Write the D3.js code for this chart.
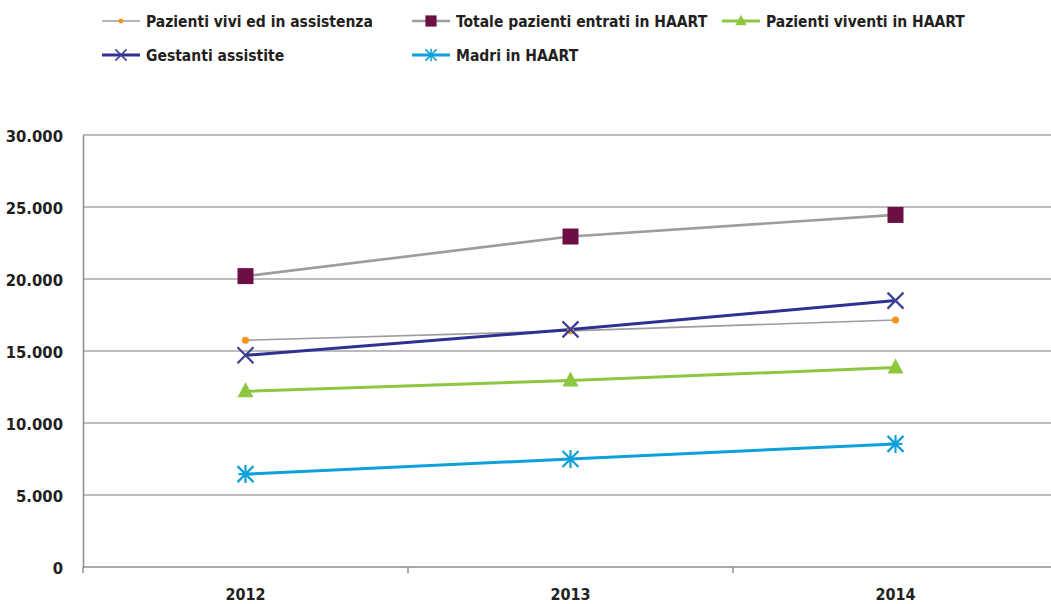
<!DOCTYPE html>
<meta charset="utf-8">
<script src="https://d3js.org/d3.v7.min.js"></script>
<style>
body { margin:0; background:#fff; }
text { font-family: "Liberation Sans Narrow", "DejaVu Sans Condensed", sans-serif; font-weight:bold; fill:#231f20; }
.grid line { stroke:#a6a6a6; stroke-width:1.5px; }
.axis path, .axis line { stroke:#8c8c8c; stroke-width:1.5px; }
</style>
<body>
<script>

var years = ['2012', '2013', '2014'];
var yTicks = [0, 5000, 10000, 15000, 20000, 25000, 30000];

var vivi = [15750, 16400, 17150];
var totale = [20200, 22950, 24450];
var viventi = [12200, 12950, 13850];
var gestanti = [14700, 16500, 18500];
var madri = [6450, 7500, 8550];

var series = [
  {name: 'Pazienti vivi ed in assistenza', values: vivi, color: '#9d9d9d', width: 1.6, marker: 'dot', mcolor: '#f7941d'},
  {name: 'Totale pazienti entrati in HAART', values: totale, color: '#9d9d9d', width: 2.6, marker: 'square', mcolor: '#6b0f44'},
  {name: 'Pazienti viventi in HAART', values: viventi, color: '#8dc63f', width: 3, marker: 'triangle', mcolor: '#8dc63f'},
  {name: 'Gestanti assistite', values: gestanti, color: '#2e3192', width: 3, marker: 'x', mcolor: '#3d3f95'},
  {name: 'Madri in HAART', values: madri, color: '#0ea0db', width: 3, marker: 'star', mcolor: '#0ea0db'}
];

var W = 1051, H = 604;
var margin = {top: 135, left: 83};
var plotW = 975, plotH = 432;

var svg = d3.select('body').append('svg').attr('width', W).attr('height', H);

var x = d3.scaleBand().domain(years).range([margin.left, margin.left + plotW]);
var y = d3.scaleLinear().domain([0, 30000]).range([margin.top + plotH, margin.top]);
var fmt = function(d) { return d3.format(',')(d).replace(/,/g, '.'); };

// gridlines
svg.append('g').attr('class', 'grid')
  .selectAll('line').data(yTicks.slice(1)).enter().append('line')
  .attr('x1', margin.left).attr('x2', margin.left + plotW)
  .attr('y1', function(d) { return y(d); }).attr('y2', function(d) { return y(d); });

// y axis
var yAxis = svg.append('g').attr('class', 'axis')
  .attr('transform', 'translate(' + margin.left + ',0)')
  .call(d3.axisLeft(y).tickValues(yTicks).tickSize(0).tickPadding(20).tickFormat(fmt));
yAxis.selectAll('text').style('font-size', '16.5px').attr('dy', '0.4em');

// x axis
var xAxis = svg.append('g').attr('class', 'axis')
  .attr('transform', 'translate(0,' + (margin.top + plotH) + ')')
  .call(d3.axisBottom(x).tickSize(0).tickPadding(22));
xAxis.select('.domain').remove();
xAxis.selectAll('text').style('font-size', '16px');
xAxis.append('line').attr('x1', margin.left).attr('x2', margin.left + plotW);
xAxis.selectAll('.sep').data(years.concat(['end'])).enter().append('line')
  .attr('class', 'sep')
  .attr('x1', function(d, i) { return margin.left + i * x.bandwidth(); })
  .attr('x2', function(d, i) { return margin.left + i * x.bandwidth(); })
  .attr('y1', 0).attr('y2', 6);

function drawMarker(g, type, color) {
  if (type === 'dot') {
    g.append('path').attr('d', d3.symbol(d3.symbolCircle, 40)()).attr('fill', color);
  } else if (type === 'square') {
    g.append('rect').attr('x', -8).attr('y', -8).attr('width', 16).attr('height', 16).attr('fill', color);
  } else if (type === 'triangle') {
    g.append('path').attr('d', 'M0,-9L8,6L-8,6Z').attr('fill', color);
  } else if (type === 'x') {
    g.append('path').attr('d', 'M-8,-8L8,8M-8,8L8,-8').attr('stroke', color).attr('stroke-width', 2.2).attr('fill', 'none');
  } else if (type === 'star') {
    g.append('path').attr('d', 'M-8,-8L8,8M-8,8L8,-8M0,-9V9M-7,0H7').attr('stroke', color).attr('stroke-width', 2.2).attr('fill', 'none');
  }
}

var line = d3.line()
  .x(function(d, i) { return x(years[i]) + x.bandwidth() / 2; })
  .y(function(d) { return y(d); });

series.forEach(function(s) {
  svg.append('path').datum(s.values)
    .attr('d', line).attr('fill', 'none')
    .attr('stroke', s.color).attr('stroke-width', s.width);
});
series.forEach(function(s) {
  svg.selectAll(null).data(s.values).enter().append('g')
    .attr('transform', function(d, i) { return 'translate(' + (x(years[i]) + x.bandwidth() / 2) + ',' + y(d) + ')'; })
    .each(function() { drawMarker(d3.select(this), s.marker, s.mcolor); });
});

// legend
var legendPos = [[102, 21], [412, 21], [722, 21], [102, 55], [412, 55]];
series.forEach(function(s, i) {
  var g = svg.append('g').attr('transform', 'translate(' + legendPos[i][0] + ',' + legendPos[i][1] + ')');
  g.append('line').attr('x1', 0).attr('x2', 38).attr('stroke', s.color).attr('stroke-width', s.width);
  var m = g.append('g').attr('transform', 'translate(19,0) scale(0.7)');
  drawMarker(m, s.marker, s.mcolor);
  g.append('text').attr('x', 44).attr('y', 5.5).style('font-size', '15.5px').text(s.name);
});

</script>
</body>
